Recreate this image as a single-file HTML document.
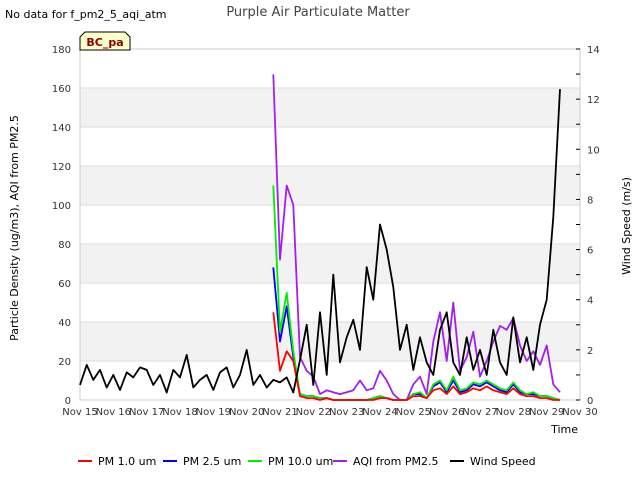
<!DOCTYPE html>
<html><head><meta charset="utf-8"><style>
body{margin:0;background:#fff;font-family:"Liberation Sans","DejaVu Sans",sans-serif;}
svg text{font-family:"DejaVu Sans","Liberation Sans",sans-serif;}
</style></head><body>
<svg id="chart" width="640" height="480" xmlns="http://www.w3.org/2000/svg">
<text x="5" y="18" font-size="11" fill="#000">No data for f_pm2_5_aqi_atm</text>
<text x="318" y="16" font-size="13" fill="#444" text-anchor="middle">Purple Air Particulate Matter</text>
<g id="bands"></g><g id="grid"></g>
<rect x="80" y="49" width="500" height="351" fill="none" stroke="#ccc"/>
<g id="axes"></g><g id="series"></g>
<text transform="translate(18,228) rotate(-90)" font-size="11" text-anchor="middle">Particle Density (ug/m3), AQI from PM2.5</text>
<text transform="translate(630,226) rotate(-90)" font-size="11" text-anchor="middle">Wind Speed (m/s)</text>
<text x="578" y="433" font-size="11" text-anchor="end">Time</text>
<g>
<path d="M80,50 L80,37 L85,32 L125,32 L130,37 L130,50 Z" fill="#ffffcc" stroke="#000"/>
<text x="105" y="46" font-size="11" font-weight="bold" fill="#8b0000" text-anchor="middle">BC_pa</text></g>
<g id="legend"></g>
</svg>
<script>
const days=["Nov 15","Nov 16","Nov 17","Nov 18","Nov 19","Nov 20","Nov 21","Nov 22","Nov 23","Nov 24","Nov 25","Nov 26","Nov 27","Nov 28","Nov 29","Nov 30"];
const leftTicks=[0,20,40,60,80,100,120,140,160,180];
const rightTicks=[0,2,4,6,8,10,12,14];
const pmStart=20.8, pmStep=0.2;
const aqi=[167,72,110,100,22,15,12,3,5,4,3,4,5,10,5,6,15,10,3,0,0,8,12,3,30,45,20,50,15,22,35,12,20,30,38,36,42,28,20,25,18,28,8,4];
const pm10=[110,35,55,25,3,2,2,1,1,0,0,0,0,0,0,1,2,1,0,0,0,3,4,1,8,10,5,12,5,6,9,8,10,8,6,5,9,5,3,4,2,2,1,0];
const pm25=[68,30,48,22,3,2,2,1,1,0,0,0,0,0,0,1,2,1,0,0,0,3,3,1,7,9,4,10,4,5,8,7,9,7,5,4,8,4,3,3,2,2,1,0];
const pm1=[45,15,25,20,2,1,1,0,1,0,0,0,0,0,0,0,1,1,0,0,0,2,2,1,5,6,3,7,3,4,6,5,7,5,4,3,6,3,2,2,1,1,0,0];
const windStart=15.0, windStep=0.2;
const wind=[0.6,1.4,0.8,1.2,0.5,1.0, 0.4,1.1,0.9,1.3,1.2, 0.6,1.0,0.3,1.2,0.9, 1.8,0.5,0.8,1.0,0.4, 1.1,1.3,0.5,1.0,2.0, 0.6,1.0,0.5,0.8,0.7, 0.9,0.3,1.6,3.0,0.6, 3.5,1.0,5.0,1.5,2.5, 3.2,2.0,5.3,4.0,7.0, 6.0,4.5,2.0,3.0,1.2, 2.5,1.5,1.0,2.8,3.5, 1.5,1.0,2.5,1.2,2.0, 1.0,2.8,1.5,1.0,3.3, 1.5,2.5,1.2,3.0,4.0, 7.3,12.4];
const NS="http://www.w3.org/2000/svg";
const X=d=>80+(d-15)*500/15, Y=v=>400-v*351/180, Y2=v=>400-v*351/14;
function mk(tag,attrs,parent,text){const e=document.createElementNS(NS,tag);for(const k in attrs)e.setAttribute(k,attrs[k]);if(text!==undefined)e.textContent=text;document.getElementById(parent).appendChild(e);return e;}
for(let i=0;i<leftTicks.length-1;i++){if(i%2===1){const b=mk('rect',{x:80,y:Y(leftTicks[i+1]),width:500,height:Y(leftTicks[i])-Y(leftTicks[i+1]),fill:'#f2f2f2'},'bands');

}}
leftTicks.forEach(v=>{const g=mk('line',{x1:80,x2:580,y1:Y(v),y2:Y(v),stroke:'#ddd'},'grid');


const t=mk('text',{x:71,y:Y(v)+4,'font-size':10,'text-anchor':'end',fill:'#333'},'axes',v);

});
for(let v=0;v<=14;v++){mk('line',{x1:576,x2:580,y1:Y2(v),y2:Y2(v),stroke:'#000'},'axes');}
rightTicks.forEach(v=>{const t=mk('text',{x:587,y:Y2(v)+4,'font-size':10,fill:'#333'},'axes',v);

});
days.forEach((d,i)=>{const t=mk('text',{x:X(15+i),y:415,'font-size':10,'text-anchor':'middle',fill:'#333'},'axes',d);

});
function line(arr,start,step,yf,color,name,w){const pts=arr.map((v,i)=>X(start+i*step).toFixed(1)+','+yf(v).toFixed(1)).join(' ');
const p=mk('polyline',{points:pts,fill:'none',stroke:color,'stroke-width':w||1.8,'stroke-linejoin':'round'},'series');

}
line(aqi,pmStart,pmStep,Y,'#a020f0','aqi-line');
line(pm25,pmStart,pmStep,Y,'#0000ff','pm25-line');
line(pm10,pmStart,pmStep,Y,'#00ee00','pm10-line');
line(pm1,pmStart,pmStep,Y,'#ff0000','pm1-line');
line(wind,windStart,windStep,Y2,'#000','wind-line');
const leg=[["PM 1.0 um","#ff0000",78],["PM 2.5 um","#0000ff",163],["PM 10.0 um","#00ee00",248],["AQI from PM2.5","#a020f0",333],["Wind Speed","#000",450]];
leg.forEach(l=>{const g=mk('g',{},'legend');


const a=document.createElementNS(NS,'line');a.setAttribute('x1',l[2]);a.setAttribute('x2',l[2]+14);a.setAttribute('y1',461);a.setAttribute('y2',461);a.setAttribute('stroke',l[1]);a.setAttribute('stroke-width',2);g.appendChild(a);
const t=document.createElementNS(NS,'text');t.setAttribute('x',l[2]+20);t.setAttribute('y',465);t.setAttribute('font-size',11);t.textContent=l[0];g.appendChild(t);});
</script>
</body></html>
